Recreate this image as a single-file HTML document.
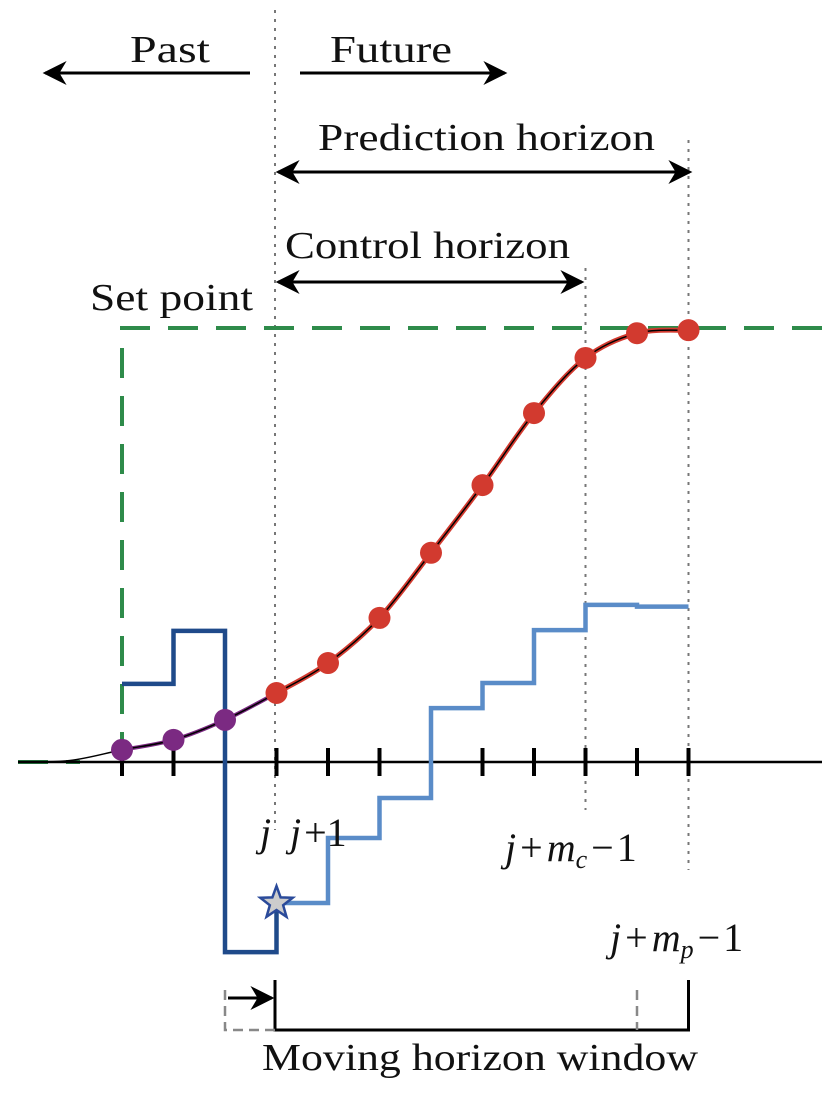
<!DOCTYPE html>
<html><head><meta charset="utf-8"><style>
body{margin:0;background:#fff}
svg text{font-family:"Liberation Serif",serif;fill:#111}
</style></head><body>
<svg id="c" width="834" height="1104" viewBox="0 0 834 1104">
<defs>
<marker id="ah2" viewBox="0 0 10 10" refX="9" refY="5" markerWidth="28" markerHeight="24" orient="auto-start-reverse" markerUnits="userSpaceOnUse"><path d="M0,0 L10,5 L0,10 L3,5z" fill="#000"/></marker></defs>
<g id="g"></g>
<text x="130" y="62" font-size="38" textLength="80" lengthAdjust="spacingAndGlyphs">Past</text>
<text x="330" y="62" font-size="38" textLength="122" lengthAdjust="spacingAndGlyphs">Future</text>
<text x="318" y="150" font-size="38" textLength="337" lengthAdjust="spacingAndGlyphs">Prediction horizon</text>
<text x="285" y="258" font-size="38" textLength="285" lengthAdjust="spacingAndGlyphs">Control horizon</text>
<text x="90" y="310" font-size="38" textLength="163" lengthAdjust="spacingAndGlyphs">Set point</text>
<text x="260" y="846" font-size="40" font-style="italic">j</text>
<text x="290" y="846" font-size="40"><tspan font-style="italic">j</tspan><tspan dx="3">+1</tspan></text>
<text x="505" y="861" font-size="40"><tspan font-style="italic">j</tspan><tspan dx="4">+</tspan><tspan dx="4" font-style="italic">m</tspan><tspan font-size="26" font-style="italic" dy="7">c</tspan><tspan dy="-7" dx="4">−</tspan><tspan dx="3">1</tspan></text>
<text x="610" y="951" font-size="40"><tspan font-style="italic">j</tspan><tspan dx="4">+</tspan><tspan dx="4" font-style="italic">m</tspan><tspan font-size="26" font-style="italic" dy="7">p</tspan><tspan dy="-7" dx="4">−</tspan><tspan dx="3">1</tspan></text>
<text x="262" y="1070" font-size="38" textLength="436" lengthAdjust="spacingAndGlyphs">Moving horizon window</text>
</svg>
<script>
const outputPast=[0.028,0.051,0.097];
const outputFuture=[0.159,0.228,0.332,0.482,0.638,0.804,0.931,0.988,0.995];
const inputPast=[0.18,0.302,-0.438];
const inputFuture=[-0.325,-0.175,-0.083,0.124,0.182,0.304,0.362,0.358];
const setPoint=[1];
const nTicks=12;
const X=k=>122+k*51.5;
const Y=v=>762-v*434;
const g=document.getElementById('g');
const NS='http://www.w3.org/2000/svg';
function el(t,a){const e=document.createElementNS(NS,t);for(const k in a)e.setAttribute(k,a[k]);g.appendChild(e);return e;}
let e;
e=el('line',{x1:275,y1:10,x2:275,y2:830,stroke:'#777','stroke-width':2,'stroke-dasharray':'3,6'});

e=el('line',{x1:X(9),y1:268,x2:X(9),y2:810,stroke:'#777','stroke-width':2,'stroke-dasharray':'3,6'});

e=el('line',{x1:X(11),y1:140,x2:X(11),y2:870,stroke:'#777','stroke-width':2,'stroke-dasharray':'3,6'});

[[250,73,45,73,'past-arrow'],[300,73,505,73,'future-arrow'],[278,172,690,172,'prediction-horizon-arrow'],[278,282,582,282,'control-horizon-arrow']].forEach(a=>{
 e=el('line',{x1:a[0],y1:a[1],x2:a[2],y2:a[3],stroke:'#000','stroke-width':3,'marker-end':'url(#ah2)'});
 if(a[4]!='past-arrow'&&a[4]!='future-arrow')e.setAttribute('marker-start','url(#ah2)');
 
});
const sy=Y(setPoint[0]);
e=el('path',{d:`M18,762 L80,762 M${X(0)},762 L${X(0)},${sy} L822,${sy}`,fill:'none',stroke:'#2e8b4a','stroke-width':4,'stroke-dasharray':'30,18'});

e=el('line',{x1:18,y1:762,x2:822,y2:762,stroke:'#000','stroke-width':2.5});

for(let k=0;k<nTicks;k++){e=el('line',{x1:X(k),y1:748,x2:X(k),y2:776,stroke:'#000','stroke-width':4});
}
function smooth(p){let d=`M${p[0][0]},${p[0][1]}`;for(let i=0;i<p.length-1;i++){const p0=p[Math.max(i-1,0)],p1=p[i],p2=p[i+1],p3=p[Math.min(i+2,p.length-1)];
d+=` C${p1[0]+(p2[0]-p0[0])/6},${p1[1]+(p2[1]-p0[1])/6} ${p2[0]-(p3[0]-p1[0])/6},${p2[1]-(p3[1]-p1[1])/6} ${p2[0]},${p2[1]}`;}return d;}
const pp=outputPast.map((v,i)=>[X(i),Y(v)]);
const fp=outputFuture.map((v,i)=>[X(i+3),Y(v)]);
const all=[[18,762],[70,760.5]].concat(pp,fp);
e=el('path',{d:smooth(pp.concat([fp[0]])),fill:'none',stroke:'#7b2a82','stroke-width':4});

e=el('path',{d:smooth(fp),fill:'none',stroke:'#d23a2f','stroke-width':5});

e=el('path',{d:smooth(all),fill:'none',stroke:'#000','stroke-width':1.5});

let d=`M${X(0)},${Y(inputPast[0])}`;
inputPast.forEach((v,i)=>{d+=` L${X(i)},${Y(v)} L${X(i+1)},${Y(v)}`;});
d+=` L${X(3)},${Y(inputFuture[0])}`;
e=el('path',{d,fill:'none',stroke:'#1f4a8a','stroke-width':4.5});

d=`M${X(3)},${Y(inputFuture[0])}`;
inputFuture.forEach((v,i)=>{d+=` L${X(i+3)},${Y(v)} L${X(i+4)},${Y(v)}`;});
e=el('path',{d,fill:'none',stroke:'#5a8cc8','stroke-width':4.5});

pp.forEach(p=>{e=el('circle',{cx:p[0],cy:p[1],r:11,fill:'#7b2a82'});
});
fp.forEach(p=>{e=el('circle',{cx:p[0],cy:p[1],r:11,fill:'#d23a2f'});
});
const cx=X(3),cy=Y(inputFuture[0]);let sp='';
for(let i=0;i<10;i++){const r=i%2?7:17,a=-Math.PI/2+i*Math.PI/5;sp+=`${cx+r*Math.cos(a)},${cy+r*Math.sin(a)} `;}
e=el('polygon',{points:sp,fill:'#ccc',stroke:'#2a4a9a','stroke-width':2.5});

e=el('path',{d:`M275,980 L275,1030 L${X(11)},1030 L${X(11)},980`,fill:'none',stroke:'#000','stroke-width':3});

e=el('path',{d:`M${X(2)},990 L${X(2)},1030 L275,1030 M${X(10)},990 L${X(10)},1030`,fill:'none',stroke:'#888','stroke-width':2.5,'stroke-dasharray':'10,6'});

e=el('line',{x1:228,y1:998,x2:272,y2:998,stroke:'#000','stroke-width':3,'marker-end':'url(#ah2)'});

</script>
</body></html>
